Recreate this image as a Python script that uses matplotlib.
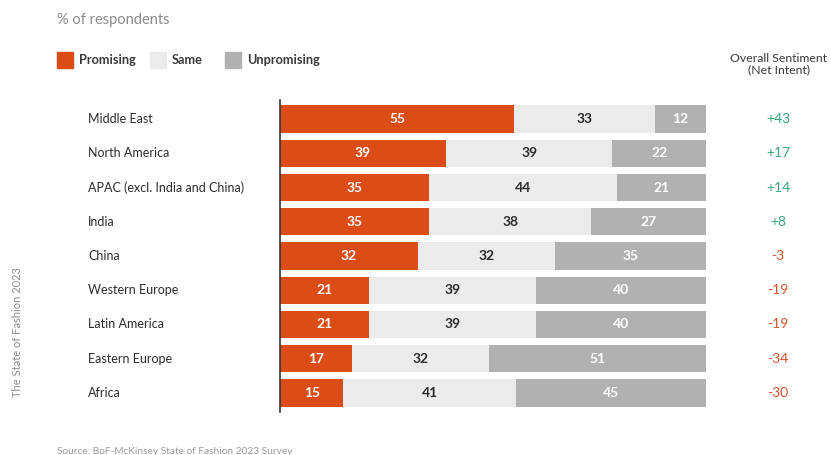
import matplotlib.pyplot as plt
import numpy as np

regions = ['Middle East', 'North America', 'APAC (excl. India and China)', 'India', 'China',
           'Western Europe', 'Latin America', 'Eastern Europe', 'Africa']
promising = [55, 39, 35, 35, 32, 21, 21, 17, 15]
same = [33, 39, 44, 38, 32, 39, 39, 32, 41]
unpromising = [12, 22, 21, 27, 35, 40, 40, 51, 45]
net_intent = ['+43', '+17', '+14', '+8', '-3', '-19', '-19', '-34', '-30']

orange = '#dc4c16'
light = '#ebebeb'
grey = '#b1b1b1'
green = '#3aa877'
red = '#d9532b'
text_dark = '#2b2b2b'

plt.rcParams['font.family'] = ['Lato', 'DejaVu Sans']

fig = plt.figure(figsize=(8.31, 4.55), dpi=100)
ax = fig.add_axes([280 / 831, 43 / 455, 426 / 831, 312 / 455])

y = np.arange(len(regions))
p = np.array(promising, dtype=float)
s = np.array(same, dtype=float)
u = np.array(unpromising, dtype=float)
# rounded shares don't always add to 100, so scale each row to full width
tot = p + s + u
ps, ss, us = p / tot * 100, s / tot * 100, u / tot * 100
h = 0.79

ax.barh(y, ps, height=h, color=orange)
ax.barh(y, ss, left=ps, height=h, color=light)
ax.barh(y, us, left=ps + ss, height=h, color=grey)

for i in range(len(regions)):
    ax.text(ps[i] / 2, y[i], str(promising[i]), ha='center', va='center', color='white',
            fontsize=10, fontweight='bold')
    ax.text(ps[i] + ss[i] / 2, y[i], str(same[i]), ha='center', va='center', color=text_dark,
            fontsize=10, fontweight='bold')
    ax.text(ps[i] + ss[i] + us[i] / 2, y[i], str(unpromising[i]), ha='center', va='center',
            color='white', fontsize=10, fontweight='bold')
    # region names on the left, net sentiment on the right
    ax.annotate(regions[i], xy=(0, y[i]), xycoords=('axes fraction', 'data'),
                xytext=(88 - 280, 0), textcoords='offset pixels',
                ha='left', va='center', fontsize=9, color=text_dark)
    col = green if net_intent[i].startswith('+') else red
    ax.annotate(net_intent[i], xy=(1, y[i]), xycoords=('axes fraction', 'data'),
                xytext=(778 - 706, 0), textcoords='offset pixels',
                ha='center', va='center', fontsize=10, color=col)

ax.set_xlim(0, 100)
ax.set_ylim(8.555, -0.555)
ax.set_xticks([])
ax.set_yticks([])
for side in ['top', 'right', 'bottom']:
    ax.spines[side].set_visible(False)
ax.spines['left'].set_color('#333333')
ax.spines['left'].set_linewidth(1.2)

# header and legend
fig.text(57 / 831, 1 - 20 / 455, '% of respondents', ha='left', va='center',
         fontsize=10.5, color='#8a8a8a')
legend_items = [('Promising', orange, 57), ('Same', light, 150), ('Unpromising', grey, 225)]
for label, c, x0 in legend_items:
    fig.patches.append(plt.Rectangle((x0 / 831, 1 - 68 / 455), 16 / 831, 16 / 455,
                                     transform=fig.transFigure, color=c))
    fig.text((x0 + 22) / 831, 1 - 60 / 455, label, ha='left', va='center',
             fontsize=9.2, fontweight='bold', color='#3a3a3a')

fig.text(779 / 831, 1 - 64 / 455, 'Overall Sentiment\n(Net Intent)', ha='center', va='center',
         fontsize=8.8, color='#3a3a3a', linespacing=1.0)

fig.text(57 / 831, 1 - 451 / 455, 'Source: BoF-McKinsey State of Fashion 2023 Survey',
         ha='left', va='center', fontsize=7.3, color='#9a9a9a')
fig.text(18 / 831, 1 - 332 / 455, 'The State of Fashion 2023', rotation=90,
         ha='center', va='center', fontsize=8, color='#8a8a8a')

fig.savefig('out.png', dpi=100, facecolor='white')
